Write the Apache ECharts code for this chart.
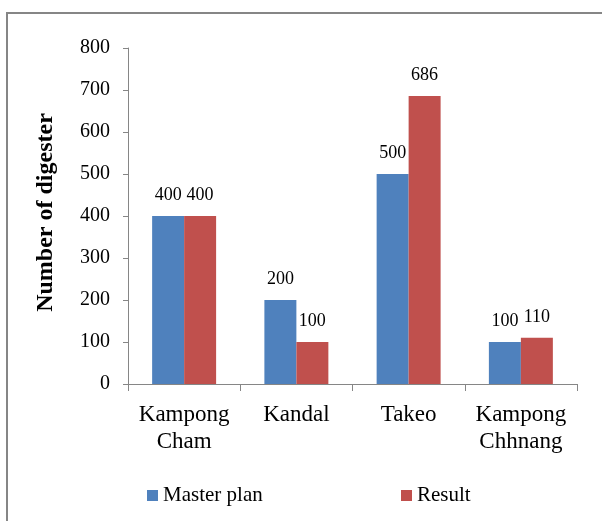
<!DOCTYPE html>
<html>
<head>
<meta charset="utf-8">
<script src="https://cdn.jsdelivr.net/npm/echarts@6/dist/echarts.min.js"></script>
<style>html,body{margin:0;padding:0;background:#fff}#c{width:602px;height:521px}</style>
</head>
<body>
<div id="c"></div>
<script>
const categories = ['Kampong\nCham', 'Kandal', 'Takeo', 'Kampong\nChhnang'];
const masterPlan = [400, 200, 500, 100];
const result = [400, 100, 686, 110];
const yTicks = { min: 0, max: 800, interval: 100 };
const seriesNames = ['Master plan', 'Result'];
const yName = 'Number of digester';

const FONT = '"Liberation Serif", "Times New Roman", serif';
const chart = echarts.init(document.getElementById('c'), null, { renderer: 'canvas' });
const labelStyle = { show: true, position: 'top', distance: 12, fontFamily: FONT, fontSize: 18, color: '#000' };
chart.setOption({
  animation: false,
  backgroundColor: '#fff',
  graphic: [{
    type: 'rect', shape: { x: 7, y: 13, width: 700, height: 600 },
    style: { fill: 'none', stroke: '#868686', lineWidth: 2 }, silent: true
  }],
  grid: { left: 128, top: 48, width: 449, height: 336 },
  legend: [
    { data: [seriesNames[0]], left: 147, top: 485, padding: 0, icon: 'rect', itemWidth: 11, itemHeight: 11, itemGap: 5,
      textStyle: { fontFamily: FONT, fontSize: 21, color: '#000' } },
    { data: [seriesNames[1]], left: 401, top: 485, padding: 0, icon: 'rect', itemWidth: 11, itemHeight: 11, itemGap: 5,
      textStyle: { fontFamily: FONT, fontSize: 21, color: '#000' } }
  ],
  xAxis: {
    type: 'category', data: categories,
    axisLine: { lineStyle: { color: '#868686', width: 1 } },
    axisTick: { show: true, length: 7, lineStyle: { color: '#868686' }, alignWithLabel: false },
    axisLabel: { fontFamily: FONT, fontSize: 23, lineHeight: 27, color: '#000', margin: 17, interval: 0 }
  },
  yAxis: {
    type: 'value', min: yTicks.min, max: yTicks.max, interval: yTicks.interval,
    name: yName, nameLocation: 'middle', nameRotate: 90, nameGap: 70,
    nameTextStyle: { fontFamily: FONT, fontSize: 24, fontWeight: 'bold', color: '#000', padding: [0, 0, 0, 7] },
    axisLine: { show: true, lineStyle: { color: '#868686', width: 1 } },
    axisTick: { show: true, length: 5, lineStyle: { color: '#868686' } },
    splitLine: { show: false },
    axisLabel: { fontFamily: FONT, fontSize: 20, color: '#000', margin: 18 }
  },
  series: [
    { name: seriesNames[0], type: 'bar', data: masterPlan, barGap: '0%', barCategoryGap: '43%',
      itemStyle: { color: '#4F81BD' }, label: labelStyle },
    { name: seriesNames[1], type: 'bar', data: result, barGap: '0%', barCategoryGap: '43%',
      itemStyle: { color: '#C0504D' }, label: labelStyle }
  ]
});
</script>
</body>
</html>
